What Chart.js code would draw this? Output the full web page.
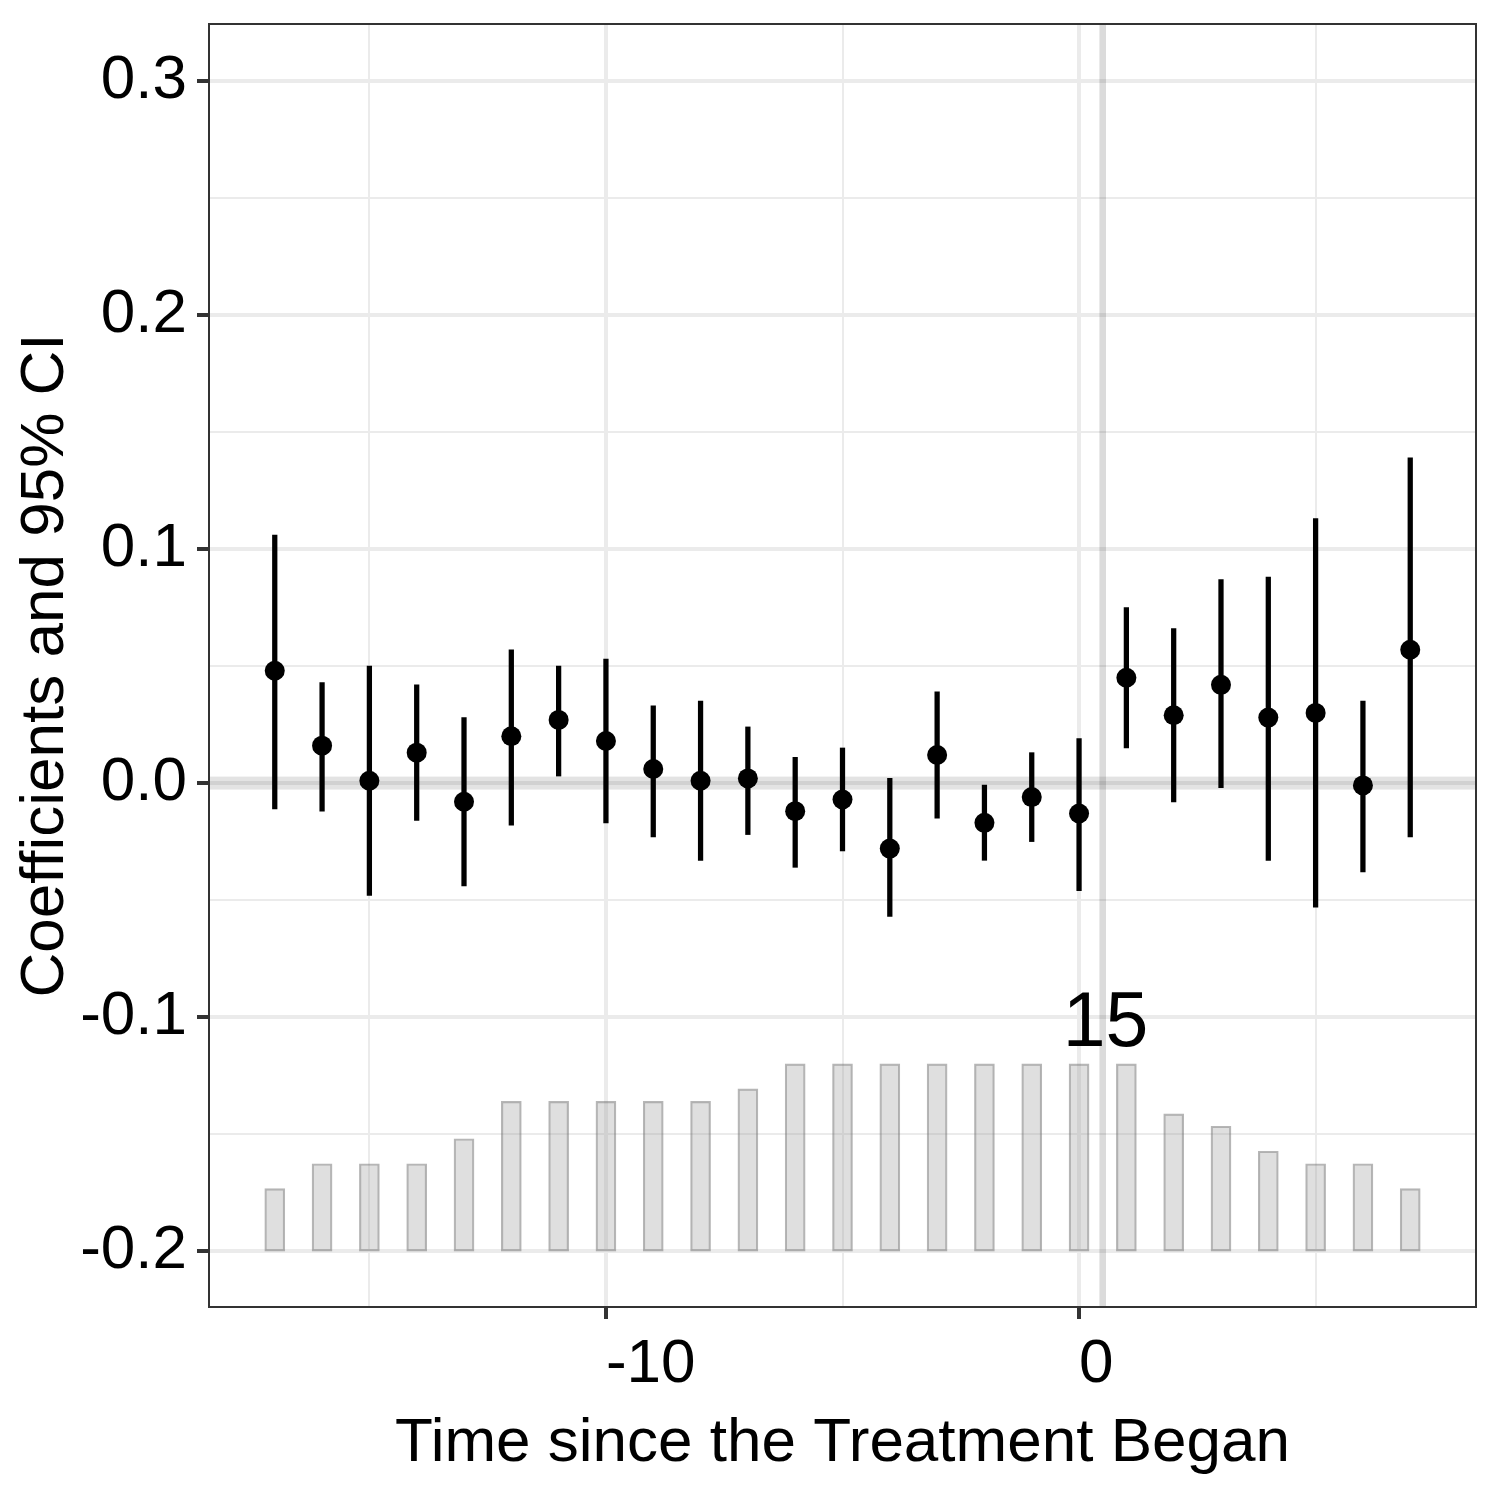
<!DOCTYPE html>
<html lang="en">
<head>
<meta charset="UTF-8">
<title>Coefficients and 95% CI</title>
<script src="https://cdn.jsdelivr.net/npm/chart.js@4"></script>
<style>
  * { margin: 0; padding: 0; box-sizing: border-box; }
  body { background: #ffffff; }
  #wrap { width: 1500px; height: 1500px; }
</style>
</head>
<body>
<div id="wrap"><canvas id="esChart" width="1500" height="1500"></canvas></div>
<script>
// periods relative to the start of treatment
const periods = [-17, -16, -15, -14, -13, -12, -11, -10, -9, -8, -7, -6, -5, -4, -3, -2, -1, 0, 1, 2, 3, 4, 5, 6, 7];
// point estimates
const coefs = [0.048, 0.016, 0.001, 0.013, -0.008, 0.020, 0.027, 0.018, 0.006, 0.001, 0.002, -0.012, -0.007, -0.028, 0.012, -0.017, -0.006, -0.013, 0.045, 0.029, 0.042, 0.028, 0.030, -0.001, 0.057];
// 95% CI bounds
const ciLower = [-0.011, -0.012, -0.048, -0.016, -0.044, -0.018, 0.003, -0.017, -0.023, -0.033, -0.022, -0.036, -0.029, -0.057, -0.015, -0.033, -0.025, -0.046, 0.015, -0.008, -0.002, -0.033, -0.053, -0.038, -0.023];
const ciUpper = [0.106, 0.043, 0.050, 0.042, 0.028, 0.057, 0.050, 0.053, 0.033, 0.035, 0.024, 0.011, 0.015, 0.002, 0.039, 0.000, 0.013, 0.019, 0.075, 0.066, 0.087, 0.088, 0.113, 0.035, 0.139];
// number of treated units observed in each period
const obsCounts = [5, 7, 7, 7, 9, 12, 12, 12, 12, 12, 13, 15, 15, 15, 15, 15, 15, 15, 15, 11, 10, 8, 7, 7, 5];

// axis ticks
const xMajorTicks = [-10, 0];
const xMinorTicks = [-15, -5, 5];
const yMajorTicks = [-0.2, -0.1, 0, 0.1, 0.2, 0.3];
const yMajorLabels = ['-0.2', '-0.1', '0.0', '0.1', '0.2', '0.3'];
const yMinorTicks = [-0.15, -0.05, 0.05, 0.15, 0.25];

// count bars sit on -0.2 and the tallest one is 0.08 high
const barBase = -0.2;
const barMaxHeight = 0.08;
const countLabelX = 0.56;

const maxCount = Math.max(...obsCounts);
const barUnit = barMaxHeight / maxCount;

const isIn = (list, v) => list.some(m => Math.abs(m - v) < 1e-9);

Chart.defaults.font.family = "'Liberation Sans', Arial, sans-serif";
Chart.defaults.color = '#000000';

const decor = {
    id: 'decor',
    beforeDatasetsDraw(chart) {
        const { ctx, chartArea: a, scales: { x, y } } = chart;
        ctx.save();
        ctx.beginPath();
        ctx.rect(a.left, a.top, a.right - a.left, a.bottom - a.top);
        ctx.clip();
        // reference line at zero
        const y0 = y.getPixelForValue(0);
        ctx.fillStyle = 'rgba(0,0,0,0.11)';
        ctx.fillRect(a.left, y0 - 6.5, a.right - a.left, 13);
        // treatment start
        const xv = x.getPixelForValue(0.5);
        ctx.fillStyle = 'rgba(0,0,0,0.14)';
        ctx.fillRect(xv - 3.3, a.top, 6.6, a.bottom - a.top);
        ctx.restore();
    },
    afterDatasetsDraw(chart) {
        const { ctx, scales: { x, y } } = chart;
        ctx.save();
        ctx.fillStyle = '#000000';
        ctx.font = "77px 'Liberation Sans', Arial, sans-serif";
        ctx.textAlign = 'center';
        ctx.textBaseline = 'alphabetic';
        const px = x.getPixelForValue(countLabelX);
        const py = y.getPixelForValue(barBase + barMaxHeight) - 18;
        ctx.fillText(String(maxCount), px, py);
        ctx.restore();
    },
    afterDraw(chart) {
        const { ctx, chartArea: a } = chart;
        ctx.save();
        ctx.strokeStyle = '#333333';
        ctx.lineWidth = 2;
        ctx.strokeRect(a.left, a.top, a.right - a.left, a.bottom - a.top);
        ctx.restore();
    }
};

new Chart(document.getElementById('esChart'), {
    type: 'bar',
    data: {
        datasets: [
            {
                type: 'scatter',
                label: 'Estimate',
                data: periods.map((t, i) => ({ x: t, y: coefs[i] })),
                pointRadius: 10,
                pointHoverRadius: 10,
                backgroundColor: '#000000',
                borderWidth: 0,
                order: 1
            },
            {
                type: 'bar',
                label: '95% CI',
                data: periods.map((t, i) => ({ x: t, y: [ciLower[i], ciUpper[i]] })),
                backgroundColor: '#000000',
                borderWidth: 0,
                barThickness: 4.6,
                grouped: false,
                order: 2
            },
            {
                type: 'bar',
                label: 'Count',
                data: periods.map((t, i) => ({ x: t, y: [barBase, barBase + obsCounts[i] * barUnit] })),
                backgroundColor: 'rgba(150,150,150,0.3)',
                borderColor: 'rgba(110,110,110,0.5)',
                borderWidth: 1.5,
                borderSkipped: false,
                barThickness: 20,
                grouped: false,
                order: 3
            }
        ]
    },
    options: {
        responsive: false,
        animation: false,
        devicePixelRatio: 1,
        layout: { padding: { top: 24, right: 24, left: 0, bottom: 0 } },
        plugins: {
            legend: { display: false },
            tooltip: { enabled: false }
        },
        scales: {
            x: {
                type: 'linear',
                min: -18.39,
                max: 8.39,
                offset: false,
                afterBuildTicks(scale) {
                    scale.ticks = [...xMinorTicks, ...xMajorTicks].sort((a, b) => a - b).map(v => ({ value: v }));
                },
                afterFit(scale) {
                    scale.height = 193;
                    scale.paddingLeft = 0;
                    scale.paddingRight = 0;
                },
                ticks: {
                    align: 'start',
                    autoSkip: false,
                    maxRotation: 0,
                    minRotation: 0,
                    padding: 15,
                    font: { size: 62, lineHeight: 1 },
                    color: '#000000',
                    callback: v => isIn(xMajorTicks, v) ? String(v) : ''
                },
                grid: {
                    offset: false,
                    color: '#ebebeb',
                    lineWidth: c => (c.tick && isIn(xMajorTicks, c.tick.value)) ? 4 : 2,
                    tickLength: 12,
                    tickWidth: 4,
                    tickColor: c => (c.tick && isIn(xMajorTicks, c.tick.value)) ? '#333333' : 'rgba(0,0,0,0)'
                },
                border: { display: false },
                title: {
                    display: true,
                    text: 'Time since the Treatment Began',
                    font: { size: 62, lineHeight: 1 },
                    color: '#000000',
                    padding: { top: 0, bottom: 25 }
                }
            },
            y: {
                type: 'linear',
                min: -0.2239,
                max: 0.3244,
                afterBuildTicks(scale) {
                    scale.ticks = [...yMinorTicks, ...yMajorTicks].sort((a, b) => a - b).map(v => ({ value: v }));
                },
                afterFit(scale) {
                    scale.width = 209;
                    scale.paddingTop = 0;
                    scale.paddingBottom = 0;
                },
                ticks: {
                    autoSkip: false,
                    padding: 10,
                    font: { size: 62, lineHeight: 1 },
                    color: '#000000',
                    callback: v => {
                        const i = yMajorTicks.findIndex(m => Math.abs(m - v) < 1e-9);
                        return i >= 0 ? yMajorLabels[i] : '';
                    }
                },
                grid: {
                    color: '#ebebeb',
                    lineWidth: c => (c.tick && isIn(yMajorTicks, c.tick.value)) ? 4 : 2,
                    tickLength: 12,
                    tickWidth: 4,
                    tickColor: c => (c.tick && isIn(yMajorTicks, c.tick.value)) ? '#333333' : 'rgba(0,0,0,0)'
                },
                border: { display: false },
                title: {
                    display: true,
                    text: 'Coefficients and 95% CI',
                    font: { size: 62, lineHeight: 1 },
                    color: '#000000',
                    padding: { top: 15, bottom: 0 }
                }
            }
        }
    },
    plugins: [decor]
});
</script>
</body>
</html>
